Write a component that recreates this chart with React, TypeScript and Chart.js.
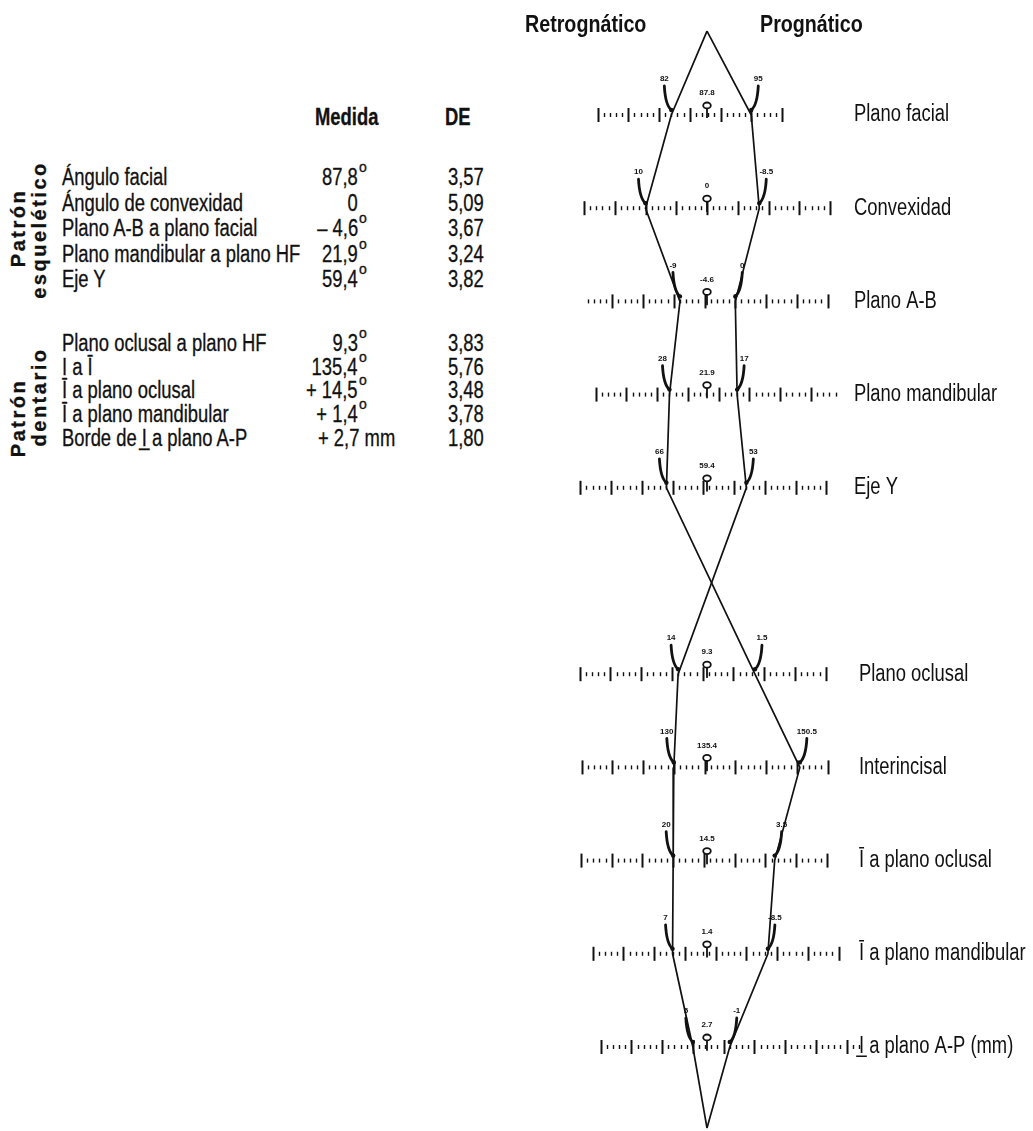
import React, { useEffect, useRef } from "react";
import { Chart, registerables } from "chart.js";

Chart.register(...registerables);

// ---------------- DATA ----------------
const rowNames = [
  "Plano facial",
  "Convexidad",
  "Plano A-B",
  "Plano mandibular",
  "Eje Y",
  "Plano oclusal",
  "Interincisal",
  "Ī a plano oclusal",
  "Ī a plano mandibular",
  "I̲ a plano A-P (mm)",
];
const rowPositions = [1, 2, 3, 4, 5, 7, 8, 9, 10, 11];
const means = [87.8, 0, -4.6, 21.9, 59.4, 9.3, 135.4, 14.5, 1.4, 2.7];
const leftValues = [82, 10, -9, 28, 66, 14, 130, 20, 7, 5];
const rightValues = [95, -8.5, 0, 17, 53, 1.5, 150.5, 3.5, -8.5, -1];
const scaleDirections = [1, -1, 1, -1, -1, -1, 1, -1, -1, -1];
const rulerStart = [70, 20, -24, 40, 80, 30, 115, 35, 20, 20];
const rulerEnd = [100, -20, 15, 1, 40, -10, 155, -5, -20, -22];
const apexTopRow = 0.1;
const apexBottomRow = 11.87;

const skeletalLabels = [
  "Ángulo facial",
  "Ángulo de convexidad",
  "Plano A-B a plano facial",
  "Plano mandibular a plano HF",
  "Eje Y",
];
const skeletalMeasures = ["87,8", "0", "– 4,6", "21,9", "59,4"];
const skeletalUnits = ["°", "", "°", "°", "°"];
const skeletalSD = ["3,57", "5,09", "3,67", "3,24", "3,82"];

const dentalLabels = [
  "Plano oclusal a plano HF",
  "I a Ī",
  "Ī a plano oclusal",
  "Ī a plano mandibular",
  "Borde de I̲ a plano A-P",
];
const dentalMeasures = ["9,3", "135,4", "+ 14,5", "+ 1,4", "+ 2,7"];
const dentalUnits = ["°", "°", "°", "°", "mm"];
const dentalSD = ["3,83", "5,76", "3,48", "3,78", "1,80"];

// ---------------- LAYOUT ----------------
const PAGE_W = 1033;
const PAGE_H = 1131;
const CANVAS_LEFT = 520;
const CANVAS_W = PAGE_W - CANVAS_LEFT;
const CENTER_PX = 707 - CANVAS_LEFT;
const PX_PER_UNIT = 6.15;
const ROW1_Y = 115;
const ROW_STEP = 93.2;
const SANS = '"Liberation Sans", Arial, Helvetica, sans-serif';
const SQUEEZE = 0.8;
const INK = "#111";

const dev = (i: number, v: number) => (v - means[i]) * scaleDirections[i];

function buildSides() {
  const a: { x: number; y: number }[] = [{ x: 0, y: apexTopRow }];
  const b: { x: number; y: number }[] = [{ x: 0, y: apexTopRow }];
  rowPositions.forEach((p, i) => {
    const l = { x: dev(i, leftValues[i]), y: p };
    const r = { x: dev(i, rightValues[i]), y: p };
    if (p < 6) {
      a.push(l);
      b.push(r);
    } else {
      a.push(r);
      b.push(l);
    }
  });
  a.push({ x: 0, y: apexBottomRow });
  b.push({ x: 0, y: apexBottomRow });
  return [a, b];
}

function narrowText(ctx: CanvasRenderingContext2D, text: string, x: number, y: number, sx = SQUEEZE) {
  ctx.save();
  ctx.translate(x, y);
  ctx.scale(sx, 1);
  ctx.fillText(text, 0, 0);
  ctx.restore();
}

const downsPlugin = {
  id: "downsPolygon",
  beforeDatasetsDraw(chart: any) {
    const { ctx, scales } = chart;
    const xs = scales.x;
    const ys = scales.y;
    ctx.save();
    ctx.strokeStyle = INK;
    ctx.fillStyle = INK;
    // headers
    ctx.font = `bold 24px ${SANS}`;
    ctx.textBaseline = "middle";
    ctx.textAlign = "left";
    narrowText(ctx, "Retrognático", 5, 25, 0.82);
    narrowText(ctx, "Prognático", 240, 25, 0.82);

    rowPositions.forEach((p, i) => {
      const yPx = ys.getPixelForValue(p);
      const lo = Math.min(rulerStart[i], rulerEnd[i]);
      const hi = Math.max(rulerStart[i], rulerEnd[i]);
      for (let v = lo; v <= hi; v++) {
        const px = Math.round(xs.getPixelForValue(dev(i, v))) + 0.5;
        const major = v % 5 === 0;
        ctx.beginPath();
        ctx.lineWidth = major ? 2 : 1.4;
        ctx.moveTo(px, yPx - (major ? 7 : 2));
        ctx.lineTo(px, yPx + (major ? 7 : 2));
        ctx.stroke();
      }
      ctx.font = `23px ${SANS}`;
      ctx.textAlign = "left";
      ctx.textBaseline = "middle";
      const labelX = xs.getPixelForValue(p < 6 ? 23.9 : 24.7);
      narrowText(ctx, rowNames[i], labelX, yPx);
    });
    ctx.restore();
  },
  afterDatasetsDraw(chart: any) {
    const { ctx, scales } = chart;
    const xs = scales.x;
    const ys = scales.y;
    ctx.save();
    ctx.strokeStyle = INK;
    ctx.fillStyle = INK;
    rowPositions.forEach((p, i) => {
      const yPx = ys.getPixelForValue(p);
      const mx = xs.getPixelForValue(0);
      ctx.lineWidth = 1.8;
      ctx.beginPath();
      ctx.moveTo(mx, yPx - 6);
      ctx.lineTo(mx, yPx + 3);
      ctx.stroke();
      ctx.beginPath();
      ctx.ellipse(mx, yPx - 9.5, 3.8, 3, 0, 0, Math.PI * 2);
      ctx.fillStyle = "#fff";
      ctx.fill();
      ctx.stroke();
      ctx.fillStyle = INK;
      ctx.font = `bold 8px ${SANS}`;
      ctx.textAlign = "center";
      ctx.textBaseline = "middle";
      ctx.fillText(String(means[i]), mx, yPx - 22);
      [
        { v: leftValues[i], s: -1 },
        { v: rightValues[i], s: 1 },
      ].forEach(({ v, s }) => {
        const px = xs.getPixelForValue(dev(i, v));
        const py = yPx - 5;
        ctx.lineWidth = 2.8;
        ctx.lineCap = "round";
        ctx.beginPath();
        ctx.moveTo(px + s * 7, yPx - 29);
        ctx.quadraticCurveTo(px + s * 6, yPx - 10, px, py);
        ctx.stroke();
        ctx.beginPath();
        ctx.arc(px, py, 2.2, 0, Math.PI * 2);
        ctx.fill();
        ctx.font = `bold 8px ${SANS}`;
        ctx.fillText(String(v), px + s * 7, yPx - 36);
      });
    });
    ctx.restore();
  },
};

const squeezeLeft: React.CSSProperties = {
  display: "inline-block",
  transform: `scaleX(${SQUEEZE})`,
  transformOrigin: "left center",
  whiteSpace: "nowrap",
};
const squeezeRight: React.CSSProperties = { ...squeezeLeft, transformOrigin: "right center" };

function Cell({ left, top, text, bold }: { left: number; top: number; text: string; bold?: boolean }) {
  return (
    <div style={{ position: "absolute", left, top, lineHeight: "24px", whiteSpace: "nowrap", fontWeight: bold ? "bold" : "normal" }}>
      <span style={squeezeLeft}>{text}</span>
    </div>
  );
}

function Measure({ text, unit, top }: { text: string; unit: string; top: number }) {
  if (unit === "mm") return <Cell left={318} top={top} text={`${text} ${unit}`} />;
  return (
    <>
      <div style={{ position: "absolute", left: 218, width: 140, textAlign: "right", top, lineHeight: "24px", whiteSpace: "nowrap" }}>
        <span style={squeezeRight}>{text}</span>
      </div>
      {unit ? (
        <div style={{ position: "absolute", left: 359, top: top - 6, fontSize: 14, lineHeight: "16px" }}>o</div>
      ) : null}
    </>
  );
}

function Table() {
  const rotated = (text: string, cx: number, cy: number) => (
    <div
      style={{
        position: "absolute",
        left: cx,
        top: cy,
        transform: "translate(-50%, -50%) rotate(-90deg)",
        fontWeight: "bold",
        fontSize: 20,
        letterSpacing: 2.5,
        whiteSpace: "nowrap",
        lineHeight: "20px",
      }}
    >
      {text}
    </div>
  );
  const skTops = skeletalLabels.map((_, k) => 177 + k * 25.5 - 12);
  const deTops = dentalLabels.map((_, k) => 343 + k * 23.7 - 12);
  return (
    <div
      style={{
        position: "absolute",
        left: 0,
        top: 0,
        width: CANVAS_LEFT,
        height: PAGE_H,
        fontFamily: SANS,
        fontSize: 23,
        color: INK,
        WebkitTextStroke: "0.3px #111",
      }}
    >
      <Cell left={315} top={105} text="Medida" bold />
      <Cell left={445} top={105} text="DE" bold />
      {rotated("Patrón", 18, 228)}
      {rotated("esquelético", 39, 230)}
      {rotated("Patrón", 18, 418)}
      {rotated("dentario", 39, 397)}
      {skeletalLabels.map((l, k) => (
        <React.Fragment key={"s" + k}>
          <Cell left={62} top={skTops[k]} text={l} />
          <Measure text={skeletalMeasures[k]} unit={skeletalUnits[k]} top={skTops[k]} />
          <Cell left={448} top={skTops[k]} text={skeletalSD[k]} />
        </React.Fragment>
      ))}
      {dentalLabels.map((l, k) => (
        <React.Fragment key={"d" + k}>
          <Cell left={62} top={deTops[k]} text={l} />
          <Measure text={dentalMeasures[k]} unit={dentalUnits[k]} top={deTops[k]} />
          <Cell left={448} top={deTops[k]} text={dentalSD[k]} />
        </React.Fragment>
      ))}
    </div>
  );
}

export default function App() {
  const ref = useRef<HTMLCanvasElement | null>(null);
  useEffect(() => {
    const canvas = ref.current;
    if (!canvas) return;
    const [sideA, sideB] = buildSides();
    const xMin = (0 - CENTER_PX) / PX_PER_UNIT;
    const xMax = (CANVAS_W - CENTER_PX) / PX_PER_UNIT;
    const yMin = 1 - ROW1_Y / ROW_STEP;
    const yMax = 1 + (PAGE_H - ROW1_Y) / ROW_STEP;
    const lineStyle = {
      borderColor: INK,
      borderWidth: 1.7,
      pointRadius: 0,
      fill: false,
      tension: 0,
    };
    const chart = new Chart(canvas, {
      type: "line",
      data: {
        datasets: [
          { label: "Extremo A", data: sideA, ...lineStyle },
          { label: "Extremo B", data: sideB, ...lineStyle },
        ],
      },
      options: {
        animation: false,
        responsive: false,
        maintainAspectRatio: false,
        devicePixelRatio: 1,
        events: [],
        layout: { padding: 0 },
        plugins: { legend: { display: false }, tooltip: { enabled: false } },
        scales: {
          x: { type: "linear", display: false, min: xMin, max: xMax },
          y: { type: "linear", display: false, min: yMin, max: yMax, reverse: true },
        },
      },
      plugins: [downsPlugin],
    } as any);
    return () => chart.destroy();
  }, []);

  return (
    <div style={{ position: "absolute", left: 0, top: 0, width: PAGE_W, height: PAGE_H, background: "#fff" }}>
      <Table />
      <canvas
        ref={ref}
        width={CANVAS_W}
        height={PAGE_H}
        style={{ position: "absolute", left: CANVAS_LEFT, top: 0, width: CANVAS_W, height: PAGE_H }}
      />
    </div>
  );
}
